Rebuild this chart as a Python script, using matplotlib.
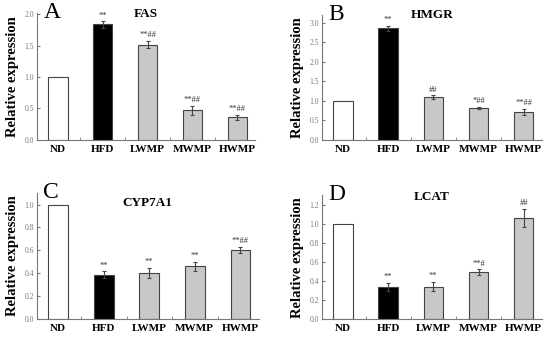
import matplotlib
matplotlib.use("Agg")
import matplotlib.pyplot as plt
import numpy as np
from matplotlib.ticker import MultipleLocator, FormatStrFormatter

plt.rcParams['font.family'] = ['Liberation Serif', 'DejaVu Serif']

groups = ["ND", "HFD", "LWMP", "MWMP", "HWMP"]

# valores
fas_val = [1.0, 1.84, 1.52, 0.47, 0.36]
fas_err = [0.0, 0.05, 0.05, 0.07, 0.04]
fas_sig = ["", "**", "**##", "**##", "**##"]

hmgr_val = [1.0, 2.86, 1.09, 0.81, 0.72]
hmgr_err = [0.0, 0.07, 0.05, 0.03, 0.08]
hmgr_sig = ["", "**", "##", "*##", "**##"]

cyp_val = [1.0, 0.385, 0.40, 0.46, 0.605]
cyp_err = [0.0, 0.03, 0.045, 0.04, 0.025]
cyp_sig = ["", "**", "**", "**", "**##"]

lcat_val = [1.0, 0.335, 0.34, 0.49, 1.065]
lcat_err = [0.0, 0.04, 0.05, 0.03, 0.095]
lcat_sig = ["", "**", "**", "**#", "##"]

colores = ["white", "black", "#c8c8c8", "#c8c8c8", "#c8c8c8"]

paneles = [
    ("A", "FAS", fas_val, fas_err, fas_sig, 2.02, 0.5, 0.99, [0.067, 0.585, 0.397, 0.376]),
    ("B", "HMGR", hmgr_val, hmgr_err, hmgr_sig, 3.2, 0.5, 1.0, [0.585, 0.585, 0.400, 0.370]),
    ("C", "CYP7A1", cyp_val, cyp_err, cyp_sig, 1.1, 0.2, 0.92, [0.067, 0.054, 0.403, 0.373]),
    ("D", "LCAT", lcat_val, lcat_err, lcat_sig, 1.3, 0.2, 0.99, [0.585, 0.054, 0.400, 0.366]),
]

fig = plt.figure(figsize=(5.5, 3.37), dpi=100)

for letra, gen, vals, errs, sigs, ytop, paso, ytit, pos in paneles:
    ax = fig.add_axes(pos)
    x = np.arange(len(groups))
    ax.bar(x, vals, width=0.43, color=colores, edgecolor="#444444", linewidth=0.8, zorder=2)
    ax.errorbar(x[1:], vals[1:], yerr=errs[1:], fmt="none", ecolor="#444444",
                elinewidth=0.8, capsize=1.5, capthick=0.8, zorder=3)
    for xi, v, e, s in zip(x, vals, errs, sigs):
        if s:
            ax.text(xi, v + e + ytop * 0.015, s, ha="center", va="bottom",
                    fontsize=6, color="#333333")
    ax.set_xlim(-0.47, 4.4)
    ax.set_ylim(0, ytop)
    ax.yaxis.set_major_locator(MultipleLocator(paso))
    ax.yaxis.set_major_formatter(FormatStrFormatter("%.1f"))
    ax.set_xticks(x)
    ax.set_xticklabels(groups, fontsize=8, fontweight="bold")
    ax.set_xticks(x[:-1] + 0.5, minor=True)
    ax.tick_params(axis="x", which="major", length=0, pad=4)
    ax.tick_params(axis="x", which="minor", direction="in", length=2, color="#777777")
    ax.tick_params(axis="y", direction="in", length=2, labelsize=5.5, labelcolor="#777777",
                   color="#777777", pad=2)
    ax.spines["top"].set_visible(False)
    ax.spines["right"].set_visible(False)
    ax.spines["left"].set_color("#777777")
    ax.spines["bottom"].set_color("#777777")
    ax.spines["left"].set_linewidth(0.8)
    ax.spines["bottom"].set_linewidth(0.8)
    ax.set_ylabel("Relative expression", fontsize=10.5, fontweight="bold", labelpad=4)
    ax.text(0.03, 1.09, letra, transform=ax.transAxes, fontsize=17, ha="left", va="top")
    ax.text(0.5, ytit, gen, transform=ax.transAxes, fontsize=9.5, fontweight="bold",
            ha="center", va="center")

fig.savefig("out.png", dpi=100)
